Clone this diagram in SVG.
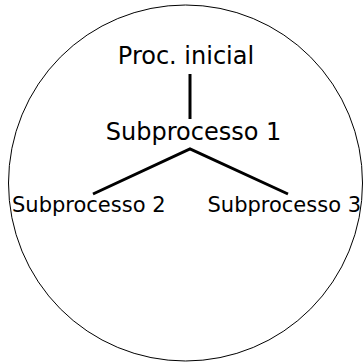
<svg xmlns="http://www.w3.org/2000/svg" width="364" height="362" viewBox="0 0 364 362">
  <style>
    .lbl { font-family: "DejaVu Sans", Verdana, sans-serif; fill: #000; }
    .big { font-size: 24px; }
    .small { font-size: 21px; }
    .link { stroke: #000; stroke-width: 3; fill: none; stroke-linejoin: miter; }
  </style>
  <rect width="364" height="362" fill="#fff"/>
  <!-- enclosing boundary -->
  <ellipse id="boundary" cx="185.5" cy="183" rx="177" ry="178" fill="none" stroke="#000" stroke-width="1"/>
  <!-- connectors -->
  <g id="connectors">
    <line class="link" x1="190" y1="74" x2="190" y2="119"/>
    <polyline class="link" points="93,194 190,149 288,194"/>
  </g>
  <g id="proc-inicial">
    <text class="lbl big" x="186" y="64" text-anchor="middle">Proc. inicial</text>
  </g>
  <g id="subprocesso-1">
    <text class="lbl big" x="193.5" y="140" text-anchor="middle">Subprocesso 1</text>
  </g>
  <g id="subprocesso-2">
    <text class="lbl small" x="12" y="212">Subprocesso 2</text>
  </g>
  <g id="subprocesso-3">
    <text class="lbl small" x="207.5" y="212">Subprocesso 3</text>
  </g>
</svg>
